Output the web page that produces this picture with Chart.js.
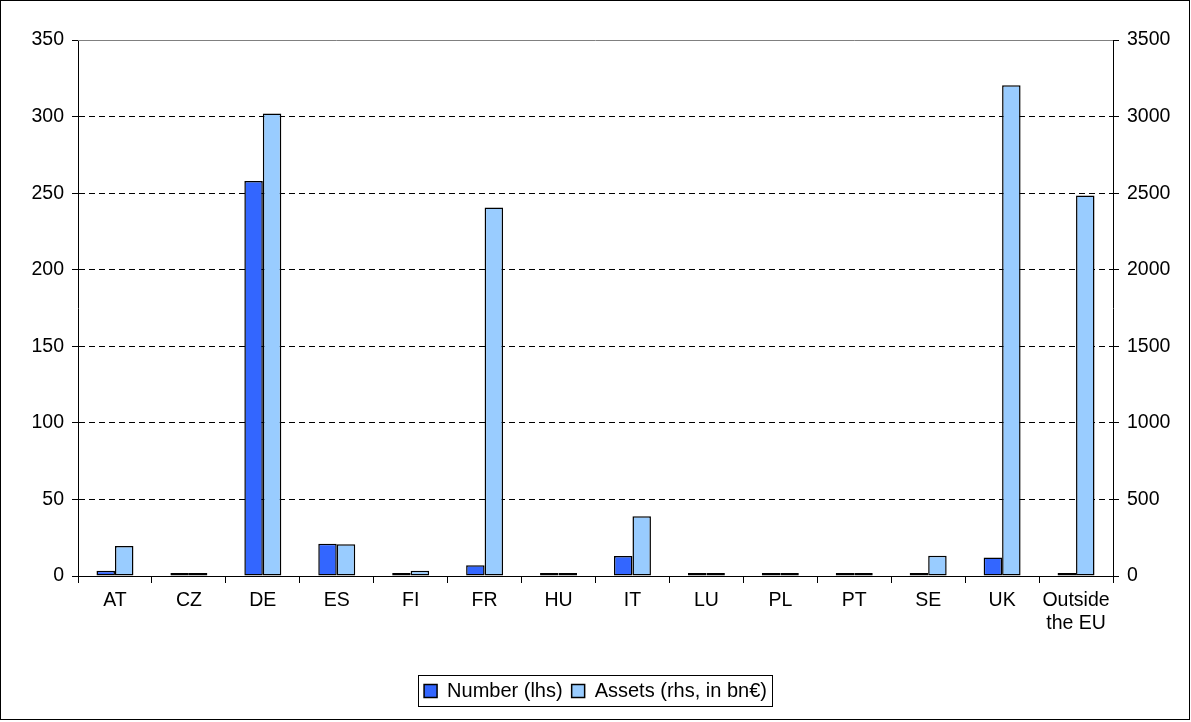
<!DOCTYPE html>
<html>
<head>
<meta charset="utf-8">
<script src="https://cdn.jsdelivr.net/npm/chart.js@4"></script>
<style>
  html, body { margin: 0; padding: 0; background: #fff; }
  #wrap { width: 1191px; height: 722px; }
</style>
</head>
<body>
<div id="wrap"><canvas id="chart" width="1191" height="722"></canvas></div>
<script>
const countries = ['AT', 'CZ', 'DE', 'ES', 'FI', 'FR', 'HU', 'IT', 'LU', 'PL', 'PT', 'SE', 'UK', ['Outside', 'the EU']];
const numberLhs = [3.5, 1, 258, 21, 1, 7, 1, 13, 1, 1, 1, 1, 12, 2];
const assetsRhs = [196, 5, 3020, 207, 35, 2407, 5, 390, 5, 5, 5, 133, 3205, 2485];
const leftTicks = [0, 50, 100, 150, 200, 250, 300, 350];

const ctx = document.getElementById('chart');
const tickFont = { family: 'Liberation Sans, Arial', size: 19.5 };

// frame round the picture, solid top line and box round the legend
const extras = {
    id: 'extras',
    beforeDatasetsDraw(chart) {
        const c = chart.ctx;
        const a = chart.chartArea;
        c.save();
        c.strokeStyle = '#808080';
        c.lineWidth = 1;
        c.beginPath();
        c.moveTo(a.left, Math.round(a.top) + 0.5);
        c.lineTo(a.right, Math.round(a.top) + 0.5);
        c.stroke();
        c.restore();
    },
    afterDraw(chart) {
        const c = chart.ctx;
        c.save();
        c.strokeStyle = '#000';
        c.lineWidth = 1;
        c.strokeRect(0.5, 0.5, 1189, 719);
        const boxes = chart.legend.legendHitBoxes;
        if (boxes && boxes.length) {
            let l = Infinity, r = -Infinity, t = Infinity, b = -Infinity;
            for (const h of boxes) {
                l = Math.min(l, h.left);
                r = Math.max(r, h.left + h.width);
                t = Math.min(t, h.top);
                b = Math.max(b, h.top + h.height);
            }
            c.strokeRect(Math.round(l) - 5.5, Math.round(t) - 5.5, Math.round(r - l) + 11, Math.round(b - t) + 11);
        }
        c.restore();
    }
};

new Chart(ctx, {
    type: 'bar',
    data: {
        labels: countries,
        datasets: [{
            label: 'Number (lhs)',
            data: numberLhs,
            yAxisID: 'y',
            backgroundColor: '#3366FF',
            borderColor: '#000',
            borderWidth: 1.5,
            borderSkipped: false,
            minBarLength: 3
        },
        {
            label: 'Assets (rhs, in bn€)',
            data: assetsRhs,
            yAxisID: 'y1',
            backgroundColor: '#99CCFF',
            borderColor: '#000',
            borderWidth: 1.5,
            borderSkipped: false,
            minBarLength: 3
        }]
    },
    options: {
        responsive: false,
        animation: false,
        devicePixelRatio: 1,
        layout: { padding: { top: 40, bottom: 11, left: 0, right: 0 } },
        datasets: {
            bar: { categoryPercentage: 0.5, barPercentage: 1 }
        },
        plugins: {
            legend: {
                position: 'bottom',
                labels: {
                    color: '#000',
                    font: { family: 'Liberation Sans, Arial', size: 20 },
                    boxWidth: 13,
                    boxHeight: 13,
                    padding: 9
                }
            },
            tooltip: { enabled: false }
        },
        scales: {
            x: {
                afterFit(scale) { scale.height = 96; },
                grid: {
                    offset: true,
                    drawOnChartArea: false,
                    color: '#000',
                    tickLength: 7
                },
                border: { display: true, color: '#000', width: 1 },
                ticks: {
                    color: '#000',
                    font: tickFont,
                    padding: 6,
                    maxRotation: 0,
                    autoSkip: false
                }
            },
            y: {
                position: 'left',
                min: 0,
                max: 350,
                afterFit(scale) { scale.width = 78; },
                afterBuildTicks(scale) { scale.ticks = leftTicks.map(v => ({ value: v })); },
                grid: {
                    color: c => (c.tick && (c.tick.value === 350 || c.tick.value === 0)) ? 'rgba(0,0,0,0)' : '#000',
                    tickColor: '#000',
                    tickLength: 6,
                    tickBorderDash: []
                },
                border: { display: true, color: '#000', width: 1, dash: [6, 4] },
                ticks: {
                    color: '#000',
                    font: tickFont,
                    padding: 8
                }
            },
            y1: {
                position: 'right',
                min: 0,
                max: 3500,
                afterFit(scale) { scale.width = 78; },
                grid: {
                    drawOnChartArea: false,
                    color: '#000',
                    tickLength: 6
                },
                border: { display: true, color: '#000', width: 1 },
                ticks: {
                    color: '#000',
                    stepSize: 500,
                    font: tickFont,
                    padding: 8,
                    callback: v => String(v)
                }
            }
        }
    },
    plugins: [extras]
});
</script>
</body>
</html>
